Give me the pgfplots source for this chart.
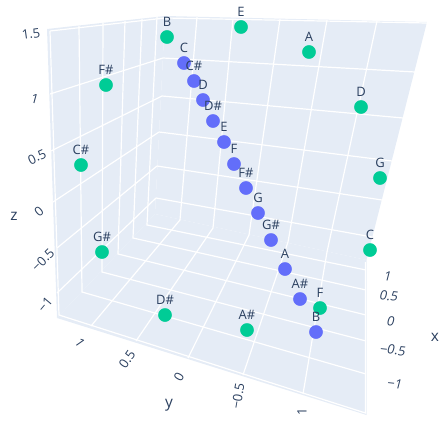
\documentclass[border=0pt]{standalone}
\usepackage{pgfplots}
\usepackage{fontspec}
\setmainfont{Open Sans}
\pgfplotsset{compat=1.18}
\definecolor{pane}{HTML}{E5ECF6}
\definecolor{ink}{HTML}{2A3F5F}
\definecolor{bluedot}{HTML}{636EFA}
\definecolor{greendot}{HTML}{00CC96}
\pgfplotsset{
  pane/.style={fill=pane,draw=none,forget plot},
  gl/.style={white,line width=1.2bp,forget plot,no marks},
  dots/.style={only marks,mark=*,mark size=6.6bp,
    point meta=explicit symbolic,nodes near coords,
    nodes near coords align={anchor=center},
    every node near coord/.style={font=\fontsize{13}{15}\selectfont,text=ink,yshift=15.5bp,inner sep=0pt}},
}
% tick label: x, y, rotation, slant, text
\newcommand{\tl}[5]{\node[font=\fontsize{13}{15}\selectfont,text=ink,inner sep=0pt,rotate=#3,xslant=#4] at (axis cs:#1,#2) {#5};}
\newcommand{\ttl}[4]{\node[font=\fontsize{15.5}{17}\selectfont,text=ink,inner sep=0pt,rotate=#3] at (axis cs:#1,#2) {#4};}
\begin{document}
\begin{tikzpicture}
\path[use as bounding box] (0,0) rectangle (440bp,422bp);
\begin{axis}[
  at={(0,0)},anchor=south west,
  scale only axis,width=440bp,height=422bp,
  xmin=0,xmax=440,ymin=0,ymax=422,y dir=reverse,
  hide axis,clip=false]
% panes
\addplot[pane] coordinates {(47,29) (165,16) (155,214) (57,318)} --cycle;
\addplot[pane] coordinates {(165,16) (427,22) (366.5,260) (155,214)} --cycle;
\addplot[pane] coordinates {(57,318) (155,214) (366.5,260) (366.5,415)} --cycle;
% left wall, z lines
\addplot[gl] coordinates {(50,31) (165,18)};
\addplot[gl] coordinates {(50,94) (163,58)};
\addplot[gl] coordinates {(51,151) (162,96)};
\addplot[gl] coordinates {(53,202) (159,132)};
\addplot[gl] coordinates {(57,248) (157,166)};
\addplot[gl] coordinates {(57,293) (156,198)};
% left wall, x lines and floor x lines
\addplot[gl] coordinates {(79,26) (82,292) (366,374)};
\addplot[gl] coordinates {(103,23) (102,272) (366,341)};
\addplot[gl] coordinates {(125,21) (118,254) (366,315)};
\addplot[gl] coordinates {(142,19) (133,238) (366,290)};
\addplot[gl] coordinates {(157,17) (147,225) (366,270)};
% right wall, z lines
\addplot[gl] coordinates {(165,18) (427,23)};
\addplot[gl] coordinates {(163,58) (415,72)};
\addplot[gl] coordinates {(162,96) (403,118)};
\addplot[gl] coordinates {(159,132) (392,161)};
\addplot[gl] coordinates {(157,166) (382,200)};
\addplot[gl] coordinates {(156,198) (372,237)};
% right wall, y lines and floor y lines
\addplot[gl] coordinates {(197,17) (180,220) (91,326)};
\addplot[gl] coordinates {(233,19) (213,228) (136,341)};
\addplot[gl] coordinates {(280,19) (249,235) (188,358)};
\addplot[gl] coordinates {(327,20) (288,242) (243,375)};
\addplot[gl] coordinates {(377,21) (327,252) (303,394)};
% pane frame lines
\addplot[gl] coordinates {(50,31) (59,315) (365.5,413) (365.5,262)};
% points
\addplot[dots,greendot] coordinates {
(241,27)[E] (167,37)[B] (309,52)[A] (106,85)[F\#] (361,107)[D] (81,165)[C\#]
(380,178)[G] (370,250)[C] (102,252)[G\#] (320,308)[F] (165,315)[D\#] (247,330)[A\#]};
\addplot[dots,bluedot] coordinates {
(184,63)[C] (194,81)[C\#] (203,100)[D] (213,121)[D\#] (224,142)[E] (234,164)[F]
(246,188)[F\#] (258,213)[G] (271,240)[G\#] (285,269)[A] (300,299)[A\#] (316,332)[B]};
% tick labels
\tl{31}{34}{8}{0}{1.5}
\tl{35}{99}{-15}{0}{1}
\tl{37}{157}{25}{0}{0.5}
\tl{39}{212}{40}{0}{0}
\tl{43}{260}{45}{0}{−0.5}
\tl{45}{305}{50}{0}{−1}
\tl{80}{343}{-55}{0}{1}
\tl{127}{359}{55}{0}{0.5}
\tl{179}{377}{60}{0}{0}
\tl{238}{396}{80}{0}{−0.5}
\tl{302}{412}{90}{0}{1}
\tl{388}{276}{-6}{0.15}{1}
\tl{389}{296}{-6}{0.15}{0.5}
\tl{391}{321}{-6}{0.15}{0}
\tl{393}{350}{-6}{0.15}{−0.5}
\tl{395}{384}{-6}{0.15}{−1}
\ttl{14}{216}{0}{z}
\ttl{169}{405}{0}{y}
\ttl{435}{337}{0}{x}
\end{axis}
\end{tikzpicture}
\end{document}
